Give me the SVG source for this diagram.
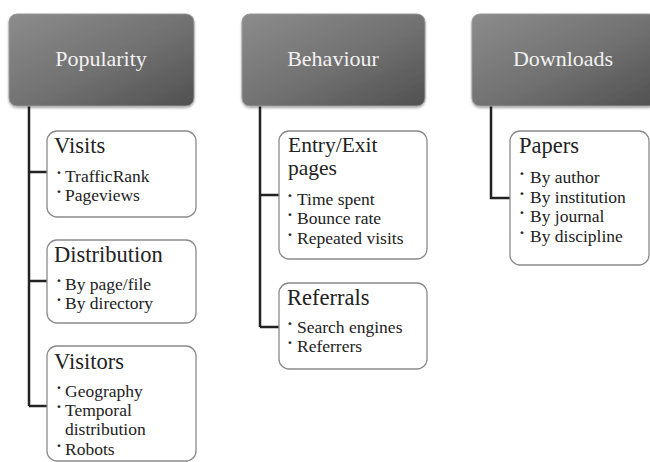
<svg xmlns="http://www.w3.org/2000/svg" width="650" height="462" viewBox="0 0 650 462">
<defs>
<linearGradient id="hg" x1="0" y1="0" x2="1" y2="1">
<stop offset="0" stop-color="#8c8c8c"/>
<stop offset="0.55" stop-color="#707070"/>
<stop offset="1" stop-color="#505050"/>
</linearGradient>
<filter id="sh" x="-5%" y="-5%" width="110%" height="115%">
<feDropShadow dx="0" dy="1.5" stdDeviation="1" flood-color="#000" flood-opacity="0.35"/>
</filter>
</defs>
<style>
.hdr rect{fill:url(#hg);stroke:#9a9a9a;stroke-width:1;filter:url(#sh)}
.hdr text{fill:#f2f2f2;font-size:22px;text-anchor:middle}
.box rect{fill:#fff;stroke:#8a8a8a;stroke-width:1.3}
.box text{fill:#222}
.t{font-size:22.5px}
.t2{font-size:21.5px}
.i{font-size:17.5px}
.b{font-size:17.5px;font-weight:bold}
.con path{fill:none;stroke:#222;stroke-width:2.5}
</style>
<rect width="650" height="462" fill="#fff"/>

<g class="con">
<path d="M29,106 V406 M29,172 H47 M29,281 H47 M29,406 H47"/>
<path d="M260,106 V327 M260,195 H279 M260,327 H279"/>
<path d="M491,106 V198 H510"/>
</g>

<g font-family="'Liberation Serif', 'DejaVu Serif', serif">
<g id="popularity" class="hdr"><rect x="9" y="14" width="185" height="92" rx="8"/><text x="101" y="66">Popularity</text></g>
<g id="behaviour" class="hdr"><rect x="242" y="14" width="183" height="92" rx="8"/><text x="333" y="66">Behaviour</text></g>
<g id="downloads" class="hdr"><rect x="472" y="14" width="185" height="92" rx="8"/><text x="563" y="66">Downloads</text></g>

<g id="visits" class="box"><rect x="47" y="131" width="149" height="86" rx="10"/>
<text class="t" x="54" y="153">Visits</text>
<text class="b" x="56" y="178">·</text><text class="i" x="65" y="182">TrafficRank</text>
<text class="b" x="56" y="197">·</text><text class="i" x="65" y="201">Pageviews</text>
</g>
<g id="distribution" class="box"><rect x="47" y="240" width="149" height="83" rx="10"/>
<text class="t" x="54" y="262">Distribution</text>
<text class="b" x="56" y="286">·</text><text class="i" x="65" y="290">By page/file</text>
<text class="b" x="56" y="305">·</text><text class="i" x="65" y="309">By directory</text>
</g>
<g id="visitors" class="box"><rect x="47" y="346" width="149" height="115" rx="10"/>
<text class="t" x="54" y="369">Visitors</text>
<text class="b" x="56" y="393">·</text><text class="i" x="65" y="397">Geography</text>
<text class="b" x="56" y="412">·</text><text class="i" x="65" y="416">Temporal</text>
<text class="i" x="65" y="435">distribution</text>
<text class="b" x="56" y="451">·</text><text class="i" x="65" y="455">Robots</text>
</g>

<g id="entryexit" class="box"><rect x="279" y="131" width="148" height="128" rx="10"/>
<text class="t2" x="288" y="152">Entry/Exit</text>
<text class="t2" x="288" y="175">pages</text>
<text class="b" x="287" y="201">·</text><text class="i" x="297" y="205">Time spent</text>
<text class="b" x="287" y="220">·</text><text class="i" x="297" y="224">Bounce rate</text>
<text class="b" x="287" y="240">·</text><text class="i" x="297" y="244">Repeated visits</text>
</g>
<g id="referrals" class="box"><rect x="279" y="283" width="148" height="86" rx="10"/>
<text class="t" x="287" y="305">Referrals</text>
<text class="b" x="287" y="329">·</text><text class="i" x="297" y="333">Search engines</text>
<text class="b" x="287" y="348">·</text><text class="i" x="297" y="352">Referrers</text>
</g>

<g id="papers" class="box"><rect x="510" y="131" width="139" height="134" rx="10"/>
<text class="t" x="519" y="153">Papers</text>
<text class="b" x="519" y="179">·</text><text class="i" x="530" y="183">By author</text>
<text class="b" x="519" y="199">·</text><text class="i" x="530" y="203">By institution</text>
<text class="b" x="519" y="218">·</text><text class="i" x="530" y="222">By journal</text>
<text class="b" x="519" y="238">·</text><text class="i" x="530" y="242">By discipline</text>
</g>
</g>
</svg>
